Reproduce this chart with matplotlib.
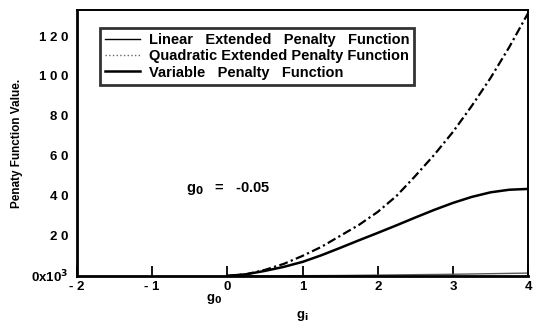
import numpy as np
import matplotlib
matplotlib.use('Agg')
import matplotlib.pyplot as plt
from matplotlib.lines import Line2D

plt.rcParams['font.family'] = ['Liberation Sans', 'DejaVu Sans']
plt.rcParams['font.weight'] = 'bold'

# values (x10^3)
g = [0.0, 0.25, 0.5, 0.75, 1.0, 1.25, 1.5, 1.75, 2.0,
     2.25, 2.5, 2.75, 3.0, 3.25, 3.5, 3.75, 4.0]
linear_ext = [0.0, 0.0, 0.0, 0.05, 0.1, 0.15, 0.2, 0.3, 0.4,
              0.5, 0.6, 0.7, 0.8, 0.95, 1.1, 1.25, 1.4]
quadratic_ext = [0.0, 0.8, 3.0, 6.0, 10.0, 14.5, 20.0, 25.5, 32.0,
                 40.0, 50.0, 60.5, 72.0, 85.0, 99.0, 114.5, 131.5]
variable = [0.0, 0.8, 2.5, 4.5, 7.0, 10.3, 14.0, 17.8, 21.5,
            25.3, 29.2, 33.0, 36.5, 39.5, 41.8, 43.1, 43.5]

xticks = [-2, -1, 0, 1, 2, 3, 4]
xticklabels = ['- 2', '- 1', '0', '1', '2', '3', '4']
yticks = [0, 20, 40, 60, 80, 100, 120]
yticklabels = ['0x10$^3$', '2 0', '4 0', '6 0', '8 0', '1 0 0', '1 2 0']

fig = plt.figure(figsize=(5.34, 3.34), dpi=100)
ax = fig.add_axes([0.144, 0.174, 0.845, 0.796])

ax.plot(g, linear_ext, '-', lw=1.0, color='0.35')
ax.plot(g, quadratic_ext, linestyle=(0, (4, 1.5, 1, 1.5)), lw=1.6, color='black')
ax.plot(g, variable, '-', lw=1.8, color='black')

ax.set_xlim(-2, 4)
ax.set_ylim(0, 133)
ax.set_xticks(xticks)
ax.set_xticklabels(xticklabels, fontsize=9.5, fontweight='bold')
ax.set_yticks(yticks)
ax.set_yticklabels(yticklabels, fontsize=9.5, fontweight='bold')
ax.tick_params(axis='x', direction='in', length=7, width=1.3, pad=4)
ax.tick_params(axis='y', length=0, pad=6)
for s in ['left', 'bottom']:
    ax.spines[s].set_linewidth(2.0)
for s in ['top', 'right']:
    ax.spines[s].set_linewidth(1.4)

ax.set_ylabel('Penaty Function Value.', fontsize=8.5, fontweight='bold', labelpad=6)
ax.set_xlabel('g$_\\mathbf{i}$', fontsize=9.5, fontweight='bold', labelpad=11)

ax.text(-0.55, 42, 'g$_\\mathbf{0}$   =   -0.05', fontsize=10.5, fontweight='bold')
ax.text(-0.28, -12.5, 'g$_\\mathbf{0}$', fontsize=9.5, fontweight='bold')

handles = [Line2D([], [], color='black', lw=1.0),
           Line2D([], [], color='0.4', lw=1.0, linestyle=':'),
           Line2D([], [], color='black', lw=1.8)]
labels = ['Linear   Extended   Penalty   Function',
          'Quadratic Extended Penalty Function',
          'Variable   Penalty   Function']
leg = ax.legend(handles, labels, loc='upper left', bbox_to_anchor=(0.051, 0.932),
                fontsize=10.5, frameon=True, fancybox=False, shadow=False,
                handlelength=2.4, handletextpad=0.6, labelspacing=0.15,
                borderpad=0.35, borderaxespad=0)
leg.get_frame().set_edgecolor('black')
leg.get_frame().set_linewidth(2.0)

plt.savefig('out.png', dpi=100)
